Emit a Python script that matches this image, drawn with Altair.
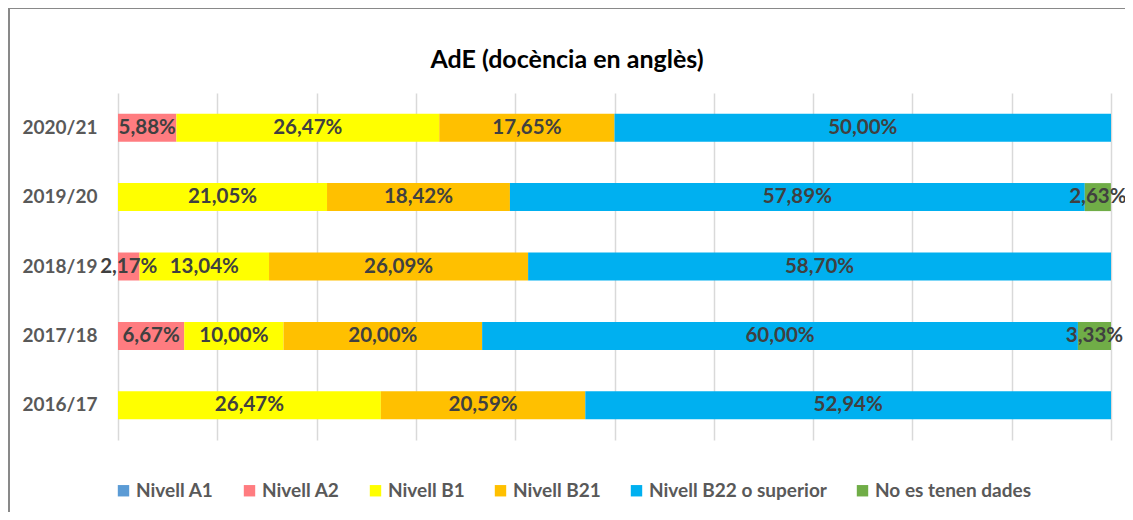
import altair as alt
import pandas as pd

years = ["2020/21", "2019/20", "2018/19", "2017/18", "2016/17"]
levels = ["Nivell A1", "Nivell A2", "Nivell B1", "Nivell B21", "Nivell B22 o superior", "No es tenen dades"]
colors = ["#5B9BD5", "#FF7C80", "#FFFF00", "#FFC000", "#00B0F0", "#70AD47"]
title_text = "AdE (docència en anglès)"

a1 = [0, 0, 0, 0, 0]
a2 = [5.88, 0, 2.17, 6.67, 0]
b1 = [26.47, 21.05, 13.04, 10.00, 26.47]
b21 = [17.65, 18.42, 26.09, 20.00, 20.59]
b22 = [50.00, 57.89, 58.70, 60.00, 52.94]
nd = [0, 2.63, 0, 3.33, 0]

series = [a1, a2, b1, b21, b22, nd]
rows = []
for li, (lev, vals) in enumerate(zip(levels, series)):
    for y, v in zip(years, vals):
        if v > 0:
            rows.append({"year": y, "level": lev, "ord": li, "value": v,
                         "label": f"{v:.2f}".replace(".", ",") + "%"})
df = pd.DataFrame(rows)

font = "Lato"

base = alt.Chart(df).transform_stack(
    stack="value", groupby=["year"], as_=["x0", "x1"], sort=[{"field": "ord", "order": "ascending"}]
).transform_calculate(mid="(datum.x0 + datum.x1) / 2")

yenc = alt.Y("year:N", sort=years, title=None,
             scale=alt.Scale(paddingInner=0.6, paddingOuter=0.3),
             axis=alt.Axis(domain=False, ticks=False, labelFont=font, labelFontSize=19,
                           labelFontWeight="bold", labelColor="#595959", labelPadding=21))

bars = base.mark_bar(size=28).encode(
    x=alt.X("x0:Q", scale=alt.Scale(domain=[0, 100], nice=False), title=None,
            axis=alt.Axis(labels=False, ticks=False, domain=False, grid=True, gridColor="#D9D9D9",
                          gridWidth=1.5, values=list(range(0, 101, 10)))),
    x2="x1:Q",
    y=yenc,
    color=alt.Color("level:N", scale=alt.Scale(domain=levels, range=colors), title=None,
                    legend=alt.Legend(orient="none", legendX=-4, legendY=388, direction="horizontal",
                                      columns=6, symbolType="square", symbolSize=130,
                                      symbolStrokeWidth=0, labelFont=font, labelFontSize=19,
                                      labelFontWeight="bold", labelColor="#595959", labelLimit=400,
                                      labelOffset=3, columnPadding=26)),
    order=alt.Order("ord:Q"),
)

texts = base.mark_text(font=font, fontSize=20.5, fontWeight="bold", color="#404040").encode(
    x=alt.X("mid:Q"),
    y=alt.Y("year:N", sort=years),
    text="label:N",
)

one = pd.DataFrame({"t": [title_text]})
title = alt.Chart(one).mark_text(font=font, fontSize=25, fontWeight="bold", color="#000000",
                                 align="center", baseline="middle").encode(
    x=alt.value(449), y=alt.value(-33), text="t:N")

border_top = alt.Chart(one).mark_rule(color="#898989", strokeWidth=2).encode(
    x=alt.value(-109), x2=alt.value(1030), y=alt.value(-85))
border_left = alt.Chart(one).mark_rule(color="#898989", strokeWidth=2).encode(
    x=alt.value(-109), y=alt.value(-85), y2=alt.value(425))

chart = alt.layer(bars, texts, title, border_top, border_left).properties(
    width=993, height=347,
    autosize=alt.AutoSizeParams(type="none"),
    padding={"left": 110, "top": 85, "right": 14, "bottom": 72},
).configure_view(stroke=None)

chart.save("out.html", embed_options={"renderer": "svg", "actions": False})
